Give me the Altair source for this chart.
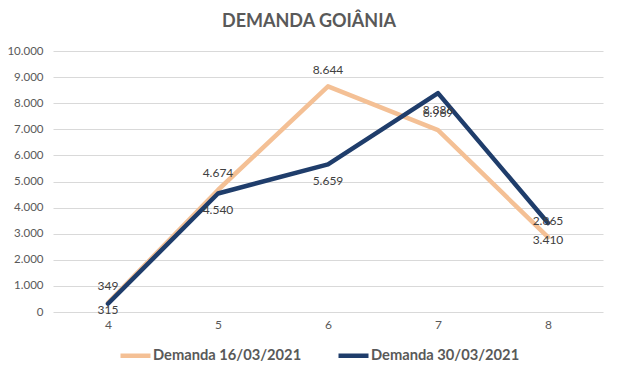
import altair as alt
import pandas as pd

categories = [4, 5, 6, 7, 8]
series_names = ["Demanda 16/03/2021", "Demanda 30/03/2021"]
demanda_16 = [349, 4674, 8644, 6969, 2865]
demanda_30 = [315, 4540, 5659, 8386, 3410]
y_ticks = [0, 1000, 2000, 3000, 4000, 5000, 6000, 7000, 8000, 9000, 10000]
title_text = "DEMANDA GOIÂNIA"

colors = ["#F4C095", "#1F3D6B"]
FONT = "Lato"
GRAY = "#595959"

rows = []
for name, vals in zip(series_names, [demanda_16, demanda_30]):
    for c, v in zip(categories, vals):
        rows.append({"cat": c, "val": v, "serie": name})
df = pd.DataFrame(rows)

W, H = 550, 261
yscale = alt.Scale(domain=[0, 10000], nice=False)
xscale = alt.Scale(paddingOuter=0.5)
fmt = "replace(format(datum.val, ','), ',', '.')"

xaxis = alt.Axis(labelAngle=0, ticks=False, domain=False, grid=False,
                 labelColor=GRAY, labelFont=FONT, labelFontSize=12, labelPadding=7)
yaxis = alt.Axis(values=y_ticks, ticks=False, domain=False, gridColor="#D9D9D9",
                 labelOverlap=False,
                 labelColor=GRAY, labelFont=FONT, labelFontSize=11.5, labelPadding=10,
                 labelExpr="replace(format(datum.value, ','), ',', '.')")

base = alt.Chart(df)

lines = base.mark_line(strokeWidth=4.5, strokeCap="round", strokeJoin="round").encode(
    x=alt.X("cat:O", title=None, scale=xscale, axis=xaxis),
    y=alt.Y("val:Q", title=None, scale=yscale, axis=yaxis),
    color=alt.Color("serie:N", scale=alt.Scale(domain=series_names, range=colors),
                    legend=alt.Legend(title=None, orient="none", direction="horizontal",
                                      legendX=65, legendY=287, symbolType="stroke",
                                      symbolStrokeWidth=4.5, symbolSize=900,
                                      labelFont=FONT, labelFontSize=14.7, labelFontWeight="bold",
                                      labelColor=GRAY, columnPadding=27, labelOffset=0)),
)

lab1 = base.transform_filter(alt.datum.serie == series_names[0]).transform_calculate(
    ly="datum.val + 640", txt=fmt
).mark_text(font=FONT, fontSize=12, color="#404040").encode(
    x=alt.X("cat:O", title=None, scale=xscale, axis=xaxis),
    y=alt.Y("ly:Q", title=None, scale=yscale, axis=yaxis),
    text="txt:N"
)

lab2 = base.transform_filter(alt.datum.serie == series_names[1]).transform_calculate(
    ly="max(datum.val - 640, 80)", txt=fmt
).mark_text(font=FONT, fontSize=12, color="#404040").encode(
    x=alt.X("cat:O", title=None, scale=xscale, axis=xaxis),
    y=alt.Y("ly:Q", title=None, scale=yscale, axis=yaxis),
    text="txt:N"
)

title = alt.Chart(pd.DataFrame({"t": [title_text]})).mark_text(
    font=FONT, fontSize=18, fontWeight="bold", color=GRAY, baseline="middle", align="center"
).encode(x=alt.value(256), y=alt.value(-29), text="t:N")

chart = alt.layer(lines, lab1, lab2, title).properties(
    width=W, height=H,
    autosize=alt.AutoSizeParams(type="none"),
    padding={"left": 45, "top": 43, "right": 7, "bottom": 60},
    background="white",
).configure_view(stroke=None).configure_axisY(labelOverlap=False)

chart.save("out.html", embed_options={"renderer": "svg", "actions": False})
